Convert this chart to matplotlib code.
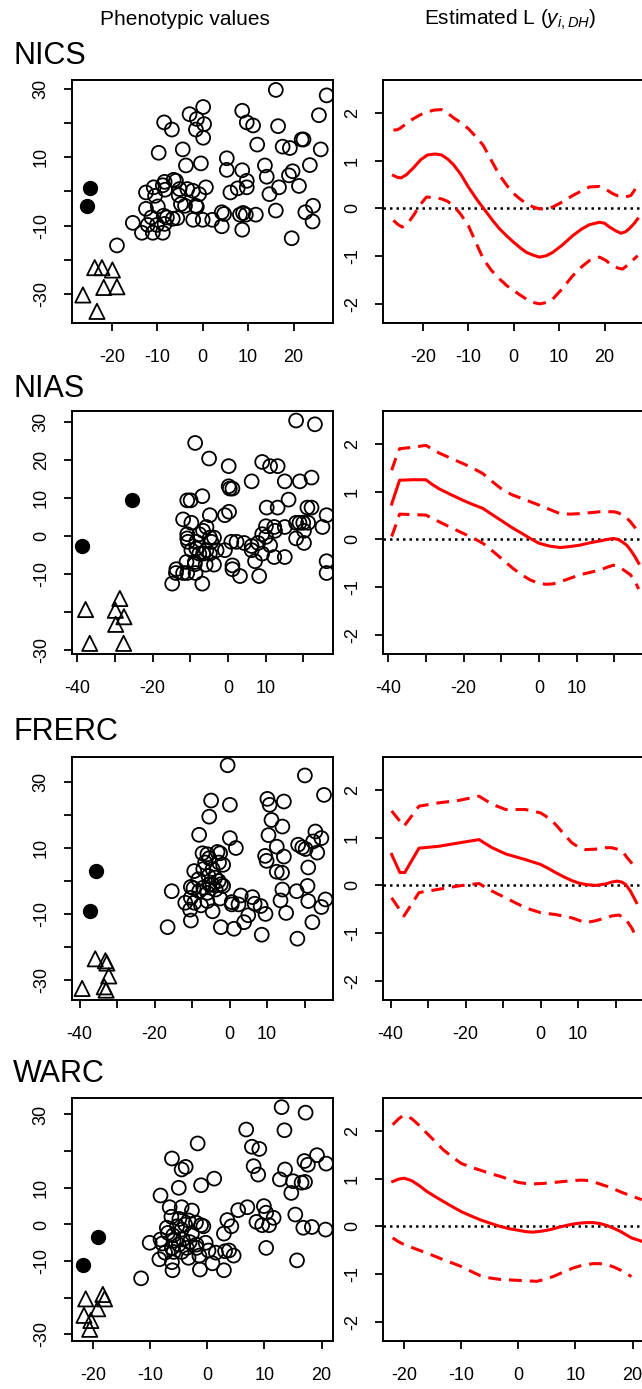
import matplotlib
matplotlib.use('Agg')
import matplotlib.pyplot as plt

plt.rcParams['font.family'] = ['Liberation Sans', 'DejaVu Sans']
plt.rcParams['mathtext.fontset'] = 'custom'
plt.rcParams['mathtext.rm'] = 'Liberation Sans'
plt.rcParams['mathtext.it'] = 'Liberation Sans:italic'

traits = ['NICS', 'NIAS', 'FRERC', 'WARC']

# ---------------- NICS ----------------
nics_open = [(16.1, 29.7), (27.3, 28.1), (0.1, 24.7), (-2.9, 22.6), (8.7, 23.6), (25.6, 22.3),
             (-1.3, 21.2), (-8.5, 20.2), (0.3, 19.7), (9.7, 20.2), (11.1, 19.3), (16.6, 19.1),
             (-6.8, 18.1), (-1.5, 18.1), (0.1, 15.7), (21.8, 15.2), (22.2, 15.2), (12.0, 13.7),
             (17.6, 13.1), (19.2, 12.7), (26.0, 12.3), (-4.4, 12.3), (-9.7, 11.3), (5.3, 9.7),
             (-0.4, 8.2), (-3.7, 7.6), (13.7, 7.6), (23.6, 7.7), (5.3, 6.3), (8.7, 6.2),
             (19.8, 5.9), (19.0, 4.7), (14.1, 4.3), (9.7, 3.1), (-6.4, 3.4), (-5.9, 3.1),
             (-8.4, 2.8), (-8.8, 1.8), (0.7, 1.2), (9.7, 1.2), (7.7, 0.9), (16.8, 1.2),
             (21.2, 1.6), (-10.8, 1.2), (-8.3, 0.5), (-5.1, 0.7), (-3.4, 0.7), (-2.2, 0.2),
             (-0.8, -0.8), (6.1, -0.3), (14.7, -0.8), (-12.5, -0.3), (-10.5, -1.3), (-5.3, -1.1),
             (-4.8, -3.7), (-3.9, -4.2), (-1.3, -4.5), (-9.9, -4.4), (24.3, -4.2), (-12.5, -5.1),
             (16.1, -5.6), (-1.5, -4.2), (4.2, -6.1), (4.7, -6.6), (8.2, -6.8), (8.9, -6.3),
             (9.5, -6.8), (11.7, -6.8), (22.6, -6.1), (-11.3, -7.6), (-8.6, -7.1), (-7.9, -7.6),
             (-6.6, -8.0), (-5.6, -7.8), (-2.1, -8.3), (0.0, -8.3), (2.1, -8.3), (4.2, -10.2),
             (24.2, -8.8), (-15.4, -9.2), (-12.1, -9.8), (-10.1, -9.8), (-8.4, -9.5), (-13.4, -12.1),
             (-11.0, -12.1), (-8.8, -12.1), (8.7, -11.2), (19.6, -13.7), (-18.9, -15.8)]
nics_filled = [(-24.9, 1.0), (-25.5, -4.2)]
nics_tri = [(-23.8, -22.3), (-22.2, -22.3), (-19.9, -23.0), (-21.8, -28.1), (-18.9, -27.9),
            (-26.4, -30.3), (-23.3, -35.1)]
nics_fit = [(-26.5, 0.69), (-25.6, 0.65), (-24.8, 0.64), (-23.6, 0.71), (-22.1, 0.85), (-20.5, 1.02),
            (-19.0, 1.12), (-17.3, 1.14), (-15.9, 1.12), (-14.5, 1.03), (-13.3, 0.92), (-11.7, 0.72),
            (-10.0, 0.45), (-8.0, 0.17), (-6.0, -0.08), (-4.5, -0.27), (-3.1, -0.43), (-1.5, -0.58),
            (0.0, -0.71), (1.5, -0.83), (2.8, -0.92), (4.3, -0.98), (5.7, -1.02), (7.2, -0.99),
            (8.6, -0.92), (10.8, -0.76), (13.0, -0.57), (15.0, -0.43), (16.7, -0.34), (18.9, -0.29),
            (20.0, -0.31), (21.1, -0.39), (22.5, -0.47), (23.6, -0.52), (24.6, -0.49), (25.4, -0.43),
            (26.4, -0.33), (27.3, -0.22)]
nics_hi = [(-26.5, 1.64), (-25.6, 1.65), (-25.0, 1.68), (-23.6, 1.78), (-22.1, 1.88), (-20.6, 1.96),
           (-19.2, 2.02), (-17.5, 2.06), (-15.9, 2.07), (-14.6, 2.00), (-13.3, 1.90), (-11.7, 1.80),
           (-10.0, 1.67), (-8.3, 1.50), (-6.7, 1.32), (-4.9, 1.00), (-3.1, 0.69), (-1.5, 0.48),
           (0.0, 0.31), (1.5, 0.19), (2.8, 0.10), (4.3, 0.03), (5.7, -0.01), (7.2, -0.01),
           (8.6, 0.03), (10.8, 0.14), (13.0, 0.27), (15.0, 0.37), (16.7, 0.45), (18.9, 0.46),
           (20.3, 0.40), (21.8, 0.31), (23.0, 0.26), (24.0, 0.24), (25.0, 0.25), (25.8, 0.27),
           (26.6, 0.38), (27.3, 0.57)]
nics_lo = [(-26.5, -0.25), (-25.6, -0.33), (-24.6, -0.39), (-23.4, -0.32), (-22.1, -0.15), (-20.6, 0.08),
           (-19.2, 0.24), (-17.5, 0.22), (-15.9, 0.20), (-14.6, 0.15), (-13.3, 0.06), (-11.7, -0.12),
           (-10.0, -0.36), (-8.3, -0.72), (-6.7, -1.06), (-4.9, -1.30), (-3.1, -1.48), (-1.5, -1.62),
           (0.0, -1.72), (1.5, -1.82), (2.8, -1.90), (4.3, -1.97), (5.7, -2.00), (7.2, -1.97),
           (8.6, -1.90), (10.8, -1.67), (13.0, -1.41), (15.0, -1.22), (16.7, -1.09), (18.9, -1.02),
           (20.3, -1.09), (21.8, -1.20), (23.0, -1.25), (24.0, -1.27), (25.4, -1.16), (27.3, -0.99)]

# ---------------- NIAS ----------------
nias_open = [(18.1, 30.4), (23.1, 29.4), (-8.7, 24.5), (-5.0, 20.4), (0.2, 18.4), (9.1, 19.5),
             (11.2, 18.4), (13.2, 18.4), (6.3, 14.4), (15.1, 14.4), (19.1, 14.4), (22.2, 15.4),
             (0.2, 13.1), (0.5, 12.5), (1.2, 12.5), (-6.8, 10.5), (-10.8, 9.4), (-9.9, 9.4),
             (16.1, 9.6), (10.3, 7.5), (13.2, 7.5), (21.1, 7.5), (22.2, 7.5), (26.2, 5.5),
             (-0.8, 5.5), (0.3, 6.4), (-11.9, 4.4), (-9.7, 3.5), (-4.8, 5.5), (18.1, 3.5),
             (19.0, 3.5), (20.0, 3.5), (21.3, 3.5), (25.1, 2.4), (10.1, 2.6), (12.3, 2.4),
             (12.5, 1.4), (15.1, 2.4), (20.2, 1.4), (20.2, -1.8), (-5.7, 2.4), (-6.6, 1.4),
             (-7.6, 0.5), (-10.8, 0.5), (-10.8, -0.6), (-10.6, -1.5), (-8.4, -1.5), (-4.8, -0.4),
             (-3.7, -0.4), (-4.4, -1.5), (0.9, -1.5), (2.3, -1.5), (4.3, -1.8), (9.1, 0.5),
             (10.1, -0.2), (11.2, -2.4), (18.1, -0.6), (8.0, -1.8), (6.3, -2.6), (6.3, -3.7),
             (9.1, -4.6), (12.3, -5.5), (15.1, -5.5), (7.2, -6.6), (-9.7, -3.7), (-8.4, -3.3),
             (-7.6, -4.6), (-6.6, -4.6), (-5.7, -3.7), (-4.8, -4.6), (-3.0, -3.7), (-0.8, -3.7),
             (-11.0, -6.8), (-8.8, -6.8), (-8.8, -7.4), (-5.9, -7.5), (-3.7, -7.5), (1.2, -7.7),
             (1.2, -8.7), (-13.7, -8.7), (-13.8, -9.7), (-11.9, -9.7), (-10.8, -9.7), (-8.6, -9.7),
             (3.2, -10.5), (8.3, -10.5), (26.2, -6.6), (26.2, -9.7), (-14.8, -12.5), (-6.8, -12.5)]
nias_filled = [(-38.8, -2.6), (-25.6, 9.6)]
nias_tri = [(-37.8, -19.3), (-36.7, -28.2), (-28.7, -16.4), (-29.9, -19.5), (-27.6, -21.2),
            (-29.8, -23.2), (-27.7, -28.2)]
nias_fit = [(-39.1, 0.74), (-37.8, 1.05), (-37.0, 1.24), (-33.5, 1.25), (-30.0, 1.25), (-28.3, 1.15),
            (-26.5, 1.06), (-23.4, 0.94), (-20.2, 0.82), (-17.5, 0.73), (-14.9, 0.65), (-12.2, 0.51),
            (-9.5, 0.37), (-7.0, 0.24), (-4.6, 0.13), (-2.3, 0.02), (0.0, -0.08), (2.8, -0.14),
            (5.6, -0.17), (8.2, -0.15), (10.9, -0.12), (13.6, -0.07), (16.3, -0.03), (18.2, 0.00),
            (19.8, 0.02), (21.0, 0.00), (22.1, -0.05), (23.3, -0.12), (24.3, -0.22), (25.4, -0.35),
            (26.5, -0.50)]
nias_hi = [(-39.1, 1.45), (-38.0, 1.70), (-37.0, 1.90), (-33.5, 1.93), (-30.0, 1.97), (-28.3, 1.89),
           (-26.5, 1.81), (-23.4, 1.70), (-20.2, 1.59), (-17.5, 1.49), (-14.9, 1.38), (-12.2, 1.20),
           (-9.5, 1.03), (-7.0, 0.93), (-4.6, 0.86), (-2.3, 0.79), (0.0, 0.72), (2.8, 0.63),
           (5.6, 0.54), (8.2, 0.53), (10.9, 0.54), (13.6, 0.56), (16.3, 0.58), (19.8, 0.58),
           (21.0, 0.56), (22.1, 0.51), (23.3, 0.45), (24.3, 0.37), (26.1, 0.19)]
nias_lo = [(-39.1, 0.06), (-38.0, 0.30), (-37.0, 0.53), (-33.5, 0.52), (-30.0, 0.51), (-28.3, 0.44),
           (-26.5, 0.37), (-23.4, 0.25), (-20.2, 0.13), (-17.5, 0.03), (-14.9, -0.08), (-12.2, -0.25),
           (-9.5, -0.43), (-7.0, -0.60), (-4.6, -0.74), (-2.3, -0.85), (0.0, -0.92), (1.9, -0.94),
           (3.8, -0.93), (7.0, -0.85), (10.9, -0.74), (13.6, -0.69), (16.3, -0.64), (18.2, -0.58),
           (19.8, -0.54), (21.2, -0.57), (22.5, -0.64), (24.3, -0.74), (25.5, -0.88), (26.5, -1.04)]

# ---------------- FRERC ----------------
frerc_open = [(-0.5, 35.1), (20.1, 32.0), (25.2, 26.1), (-4.9, 24.4), (0.1, 23.1), (10.1, 24.9),
              (10.7, 23.1), (14.5, 24.1), (-5.4, 19.5), (11.2, 18.5), (14.1, 16.5), (22.9, 15.0),
              (-8.1, 14.0), (10.4, 13.9), (0.1, 13.0), (1.7, 10.0), (24.5, 13.0), (22.3, 12.0),
              (18.3, 11.0), (19.4, 10.2), (20.3, 9.7), (12.6, 10.4), (23.4, 8.6), (9.5, 7.6),
              (9.9, 6.1), (14.5, 7.4), (-7.2, 8.4), (-5.9, 8.1), (-3.2, 8.8), (-2.5, 8.4),
              (-1.7, 4.9), (-2.8, 5.6), (-5.4, 6.9), (-6.5, 5.6), (-4.5, 3.6), (-9.4, 3.0),
              (-7.0, 3.6), (21.0, 4.1), (12.6, 2.8), (14.0, 2.5), (-8.3, 0.5), (-5.6, 1.5),
              (-3.8, 1.0), (-2.9, 0.0), (-2.3, -1.0), (-4.5, -1.2), (-1.7, -1.5), (-10.3, -1.8),
              (-9.6, -2.2), (-8.1, -3.1), (-7.0, -2.0), (-5.9, -3.6), (-3.7, -2.6), (-5.4, -1.0),
              (-15.4, -3.1), (14.1, -2.6), (20.8, -1.5), (17.9, -3.1), (3.0, -4.4), (6.1, -4.9),
              (-10.3, -5.1), (-11.8, -6.6), (-9.4, -6.6), (-7.6, -7.4), (-5.9, -6.1), (-2.5, -5.3),
              (0.6, -6.4), (2.4, -7.1), (6.7, -6.9), (8.3, -7.6), (13.6, -5.9), (21.0, -6.1),
              (25.6, -5.6), (24.5, -7.9), (0.6, -7.1), (-10.5, -8.7), (-4.5, -9.2), (5.0, -10.4),
              (9.6, -10.0), (15.1, -9.7), (-10.3, -12.0), (3.9, -12.5), (22.1, -12.5),
              (-16.5, -14.0), (-2.3, -14.0), (1.2, -14.5), (8.6, -16.3), (18.1, -17.5)]
frerc_filled = [(-35.7, 3.0), (-37.3, -9.0)]
frerc_tri = [(-35.8, -23.6), (-33.1, -24.2), (-32.7, -24.9), (-32.2, -28.8), (-39.3, -32.6),
             (-33.4, -32.1), (-32.9, -33.1)]
frerc_fit = [(-39.7, 0.65), (-37.5, 0.27), (-36.2, 0.27), (-32.4, 0.78), (-27.1, 0.82), (-21.8, 0.89),
             (-16.4, 0.96), (-12.9, 0.79), (-9.3, 0.66), (-4.0, 0.54), (0.0, 0.44), (2.0, 0.36),
             (4.0, 0.27), (6.2, 0.18), (8.4, 0.10), (10.2, 0.05), (12.0, 0.02), (14.7, 0.00),
             (17.3, 0.03), (19.0, 0.07), (20.4, 0.09), (21.7, 0.07), (22.7, 0.02), (24.0, -0.12),
             (25.6, -0.36)]
frerc_hi = [(-39.7, 1.56), (-36.4, 1.24), (-32.4, 1.66), (-27.1, 1.73), (-21.8, 1.78), (-16.4, 1.87),
            (-12.9, 1.70), (-9.3, 1.59), (-4.0, 1.59), (0.0, 1.52), (2.0, 1.42), (4.0, 1.28),
            (6.2, 1.08), (8.4, 0.89), (10.2, 0.80), (12.0, 0.75), (14.7, 0.76), (17.3, 0.79),
            (19.0, 0.79), (20.9, 0.75), (22.2, 0.68), (23.1, 0.58), (24.4, 0.46), (25.6, 0.34)]
frerc_lo = [(-39.7, -0.26), (-36.4, -0.64), (-32.4, -0.15), (-27.1, -0.08), (-21.8, -0.01),
            (-16.4, 0.04), (-12.9, -0.12), (-9.3, -0.26), (-4.0, -0.47), (0.0, -0.57), (4.0, -0.61),
            (8.4, -0.68), (12.0, -0.78), (14.7, -0.74), (17.3, -0.68), (19.0, -0.64), (20.9, -0.62),
            (22.2, -0.67), (23.1, -0.75), (24.4, -0.90), (25.6, -1.10)]

# ---------------- WARC ----------------
warc_open = [(13.0, 32.0), (17.2, 30.5), (6.8, 25.9), (13.5, 25.7), (-1.7, 22.1), (7.8, 21.2),
             (9.1, 20.6), (-6.2, 18.0), (19.2, 18.9), (20.8, 16.6), (17.0, 17.3), (17.6, 16.3),
             (-3.8, 15.7), (-4.5, 15.0), (8.1, 15.9), (8.9, 13.6), (13.6, 15.0), (1.2, 12.5),
             (-1.1, 10.7), (12.7, 12.3), (15.0, 11.8), (16.5, 11.4), (17.1, 11.6), (-5.0, 10.0),
             (14.7, 8.6), (-8.2, 7.9), (-6.6, 4.7), (-4.5, 4.7), (-2.7, 3.8), (5.4, 3.9),
             (7.0, 4.7), (9.9, 5.0), (10.3, 3.2), (11.6, 1.8), (15.4, 2.7), (3.5, 1.2),
             (8.6, 0.7), (9.6, -0.2), (10.8, -0.2), (4.2, -0.5), (-2.0, 0.5), (-1.1, -0.2),
             (-0.7, -0.5), (16.8, -0.9), (18.3, -0.7), (20.7, -1.4), (-6.3, 2.1), (-4.9, 1.5),
             (-3.3, 1.1), (-7.1, -0.9), (-5.3, -0.5), (-3.9, 0.0), (-4.5, -1.4), (-2.7, -2.5),
             (2.9, -2.5), (-6.9, -2.3), (-6.0, -3.0), (-8.2, -4.1), (-10.1, -5.0), (-7.9, -5.2),
             (-5.9, -4.4), (-4.3, -4.1), (-3.1, -4.8), (-1.9, -5.5), (-0.3, -5.0), (-5.0, -5.5),
             (-6.2, -6.4), (-3.6, -6.4), (-1.9, -6.4), (0.2, -7.1), (1.5, -7.7), (3.1, -7.3),
             (3.8, -7.1), (4.6, -8.5), (-1.4, -8.5), (-4.5, -7.5), (-5.9, -7.5), (-7.4, -7.7),
             (-3.3, -9.1), (-8.4, -9.5), (-6.2, -10.3), (0.9, -10.6), (10.3, -6.4), (15.7, -9.8),
             (-1.3, -12.3), (-6.1, -12.5), (2.9, -12.5), (-11.6, -14.7)]
warc_filled = [(-21.7, -11.2), (-19.2, -3.5)]
warc_tri = [(-21.3, -20.3), (-18.3, -19.1), (-18.0, -20.3), (-19.2, -23.0), (-21.6, -24.8),
            (-20.4, -26.2), (-20.6, -28.6)]
warc_fit = [(-22.0, 0.94), (-21.0, 0.99), (-20.0, 1.01), (-18.7, 0.96), (-17.3, 0.85), (-16.0, 0.73),
            (-14.5, 0.62), (-13.1, 0.52), (-11.5, 0.41), (-10.0, 0.31), (-8.3, 0.22), (-6.7, 0.14),
            (-5.0, 0.07), (-3.2, 0.00), (-1.5, -0.05), (0.0, -0.08), (1.3, -0.11), (2.6, -0.12),
            (4.0, -0.10), (5.5, -0.07), (7.0, -0.02), (8.4, 0.02), (9.6, 0.05), (10.8, 0.07),
            (12.0, 0.08), (13.1, 0.08), (14.3, 0.06), (15.5, 0.02), (16.7, -0.04), (17.8, -0.10),
            (18.8, -0.17), (19.8, -0.24), (21.6, -0.31)]
warc_hi = [(-22.0, 2.13), (-21.0, 2.25), (-20.1, 2.33), (-18.7, 2.26), (-17.3, 2.11), (-16.0, 1.95),
           (-14.5, 1.77), (-13.1, 1.60), (-11.5, 1.45), (-10.0, 1.32), (-8.3, 1.24), (-6.7, 1.18),
           (-5.0, 1.11), (-3.2, 1.05), (-1.5, 0.98), (0.0, 0.92), (1.3, 0.90), (2.6, 0.89),
           (4.3, 0.90), (6.1, 0.92), (7.8, 0.94), (9.6, 0.96), (11.0, 0.97), (12.5, 0.96),
           (14.0, 0.90), (15.5, 0.84), (17.0, 0.77), (18.4, 0.70), (20.0, 0.63), (21.6, 0.56)]
warc_lo = [(-22.0, -0.24), (-21.0, -0.32), (-20.0, -0.38), (-18.0, -0.47), (-16.0, -0.56),
           (-14.5, -0.63), (-13.1, -0.70), (-11.5, -0.77), (-10.0, -0.84), (-8.3, -0.94),
           (-6.7, -1.03), (-5.0, -1.08), (-3.2, -1.11), (0.0, -1.13), (1.6, -1.14), (3.2, -1.15),
           (4.6, -1.11), (6.1, -1.05), (7.8, -0.96), (9.6, -0.87), (11.3, -0.81), (13.1, -0.78),
           (14.3, -0.78), (15.5, -0.80), (16.7, -0.85), (17.8, -0.91), (19.8, -1.05)]

# axis setup per panel
xlims = [(-28.8, 28.7), (-41.4, 27.9), (-42.0, 27.6), (-23.7, 22.0)]
ylims_left = [(-38.5, 32.6), (-31.0, 32.9), (-36.1, 37.6), (-31.8, 34.5)]
xticks = [[-20, -10, 0, 10, 20], [-40, -30, -20, -10, 0, 10, 20],
          [-40, -30, -20, -10, 0, 10, 20], [-20, -10, 0, 10, 20]]
xlabels_shown = [[-20, -10, 0, 10, 20], [-40, -20, 0, 10], [-40, -20, 0, 10], [-20, -10, 0, 10, 20]]
yticks_left = [-30, -20, -10, 0, 10, 20, 30]
ylabels_shown = [[30, 10, -10, -30], [30, 20, 10, 0, -10, -30], [30, 10, -10, -30],
                 [30, 10, 0, -10, -30]]
ylim_right = (-2.4, 2.69)
yticks_right = [-2, -1, 0, 1, 2]

panels = [
    (nics_open, nics_filled, nics_tri, nics_fit, nics_hi, nics_lo),
    (nias_open, nias_filled, nias_tri, nias_fit, nias_hi, nias_lo),
    (frerc_open, frerc_filled, frerc_tri, frerc_fit, frerc_hi, frerc_lo),
    (warc_open, warc_filled, warc_tri, warc_fit, warc_hi, warc_lo),
]

W, H = 642, 1389
fig = plt.figure(figsize=(W / 100, H / 100), dpi=100)
fig.patch.set_facecolor('white')

def rect(left, top, w=261, h=243):
    return [left / W, 1 - (top + h) / H, w / W, h / H]

tops = [80, 411, 757, 1098]
title_base = [64, 397, 740, 1082]

def lab(v, shown):
    return str(v) if v in shown else ''

def style(ax):
    for s in ax.spines.values():
        s.set_linewidth(1.4)
    ax.tick_params(direction='out', length=6, width=1.3, labelsize=13, color='black')
    ax.tick_params(axis='x', pad=13)
    ax.tick_params(axis='y', pad=10)
    for t in ax.get_yticklabels():
        t.set_rotation(90)
        t.set_va('center')

red = '#ff0000'
dash = (0, (4.2, 2.6))

for i, (op, fi, tr, fit, hi, lo) in enumerate(panels):
    axL = fig.add_axes(rect(72, tops[i]))
    axR = fig.add_axes(rect(383, tops[i]))

    ox, oy = zip(*op)
    fx_, fy_ = zip(*fi)
    tx, ty = zip(*tr)
    axL.scatter(ox, oy, s=100, facecolors='none', edgecolors='black', linewidths=1.3, zorder=3)
    axL.scatter(fx_, fy_, s=100, facecolors='black', edgecolors='black', linewidths=1.0, zorder=3)
    axL.scatter(tx, ty, s=120, marker='^', facecolors='none', edgecolors='black',
                linewidths=1.3, zorder=3)
    axL.set_xlim(*xlims[i])
    axL.set_ylim(*ylims_left[i])
    axL.set_xticks(xticks[i])
    axL.set_xticklabels([lab(v, xlabels_shown[i]) for v in xticks[i]])
    axL.set_yticks(yticks_left)
    axL.set_yticklabels([lab(v, ylabels_shown[i]) for v in yticks_left])
    style(axL)

    axR.axhline(0, color='black', lw=1.8, ls=(0, (1, 1.6)), zorder=1)
    cx, cy = zip(*fit)
    axR.plot(cx, cy, color=red, lw=2.2, zorder=3, solid_joinstyle='round')
    hx, hy = zip(*hi)
    axR.plot(hx, hy, color=red, lw=2.2, ls=dash, zorder=3)
    lx, ly = zip(*lo)
    axR.plot(lx, ly, color=red, lw=2.2, ls=dash, zorder=3)
    axR.set_xlim(*xlims[i])
    axR.set_ylim(*ylim_right)
    axR.set_xticks(xticks[i])
    axR.set_xticklabels([lab(v, xlabels_shown[i]) for v in xticks[i]])
    axR.set_yticks(yticks_right)
    axR.set_yticklabels([str(v) for v in yticks_right])
    style(axR)

    fig.text(13 / W, 1 - title_base[i] / H, traits[i], fontsize=22, ha='left', va='baseline')

fig.text(185 / W, 1 - 25 / H, 'Phenotypic values', fontsize=15, ha='center', va='baseline')
fig.text(510 / W, 1 - 25 / H, r'Estimated L ($y_{i,DH}$)', fontsize=15, ha='center', va='baseline')

fig.savefig('out.png', dpi=100, facecolor='white')
